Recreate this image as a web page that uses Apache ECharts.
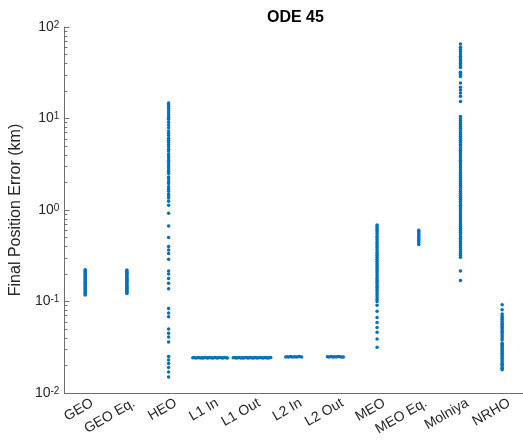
<!DOCTYPE html>
<html><head><meta charset="utf-8">
<script src="https://cdn.jsdelivr.net/npm/echarts@6/dist/echarts.min.js"></script>
<style>html,body{margin:0;padding:0;background:#fff}#c{width:523px;height:441px}</style>
</head><body><div id="c"></div>
<script>
const categories = ['GEO','GEO Eq.','HEO','L1 In','L1 Out','L2 In','L2 Out','MEO','MEO Eq.','Molniya','NRHO'];
const categoryPositions = [1,2,3,4,5,6,7,8,9,10,11];
const titleText = 'ODE 45';
const yAxisName = 'Final Position Error (km)';
const yMajorTicks = [0.01, 0.1, 1, 10, 100];
const yMinorTicks = [0.02,0.03,0.04,0.05,0.06,0.07,0.08,0.09,0.2,0.3,0.4,0.5,0.6,0.7,0.8,0.9,2,3,4,5,6,7,8,9,20,30,40,50,60,70,80,90];

const geo = [0.118,0.121,0.124,0.127,0.13,0.134,0.137,0.141,0.145,0.149,0.153,0.158,0.162,0.167,0.172,0.177,0.182,0.188,0.194,0.2,0.206,0.212,0.218,0.222];
const geoEq = [0.122,0.125,0.128,0.132,0.135,0.139,0.143,0.147,0.151,0.156,0.16,0.165,0.17,0.175,0.18,0.186,0.191,0.197,0.203,0.209,0.215,0.221];
const heo = [14.8,14.2,13.5,12.9,12.1,11.5,10.9,10.3,9.8,9.1,8.5,7.9,7.3,6.9,6.5,6.1,5.8,5.5,5.2,4.9,4.6,4.4,4.1,3.9,3.7,3.5,3.3,3.1,2.95,2.8,2.65,2.5,2.3,2.2,2.05,1.95,1.8,1.7,1.6,1.5,1.42,1.35,1.25,1.13,0.92,0.67,0.5,0.4,0.365,0.335,0.29,0.216,0.2,0.178,0.158,0.138,0.084,0.075,0.068,0.05,0.045,0.041,0.036,0.025,0.023,0.021,0.019,0.017,0.015];
const l1In = [0.0243,0.0244,0.0242,0.0243,0.0245,0.0242,0.0243,0.0241,0.0244,0.0243,0.0242,0.0244,0.0243,0.0241,0.0243,0.0244,0.0242,0.0243,0.0245,0.0243,0.0242,0.0244,0.0243,0.0242];
const l1InOffset = [-0.42,-0.39,-0.35,-0.31,-0.28,-0.24,-0.2,-0.17,-0.13,-0.09,-0.06,-0.02,0.01,0.05,0.08,0.12,0.16,0.19,0.23,0.27,0.3,0.34,0.38,0.41];
const l1Out = [0.0243,0.0244,0.0242,0.0243,0.0245,0.0242,0.0243,0.0241,0.0244,0.0243,0.0242,0.0244,0.0243,0.0241,0.0243,0.0244,0.0242,0.0243,0.0245,0.0243,0.0242,0.0244,0.0243,0.0242,0.0243,0.0244];
const l1OutOffset = [-0.45,-0.41,-0.38,-0.34,-0.31,-0.27,-0.23,-0.2,-0.16,-0.12,-0.09,-0.05,-0.02,0.02,0.05,0.09,0.12,0.16,0.2,0.23,0.27,0.31,0.34,0.38,0.41,0.45];
const l2In = [0.0248,0.0249,0.0247,0.0250,0.0248,0.0249,0.0247,0.0249,0.0250,0.0248];
const l2InOffset = [-0.19,-0.15,-0.11,-0.07,-0.03,0.02,0.06,0.1,0.14,0.19];
const l2Out = [0.0249,0.0248,0.0250,0.0247,0.0249,0.0248,0.0250,0.0249,0.0247,0.0248];
const l2OutOffset = [-0.19,-0.15,-0.1,-0.06,-0.02,0.02,0.06,0.11,0.15,0.19];
const meo = [0.685,0.66,0.63,0.6,0.575,0.55,0.52,0.5,0.475,0.45,0.43,0.41,0.39,0.37,0.35,0.335,0.32,0.305,0.29,0.275,0.26,0.25,0.24,0.23,0.22,0.21,0.2,0.19,0.18,0.172,0.165,0.158,0.15,0.143,0.136,0.13,0.124,0.118,0.112,0.106,0.1,0.091,0.078,0.067,0.059,0.052,0.046,0.039,0.0316];
const meoEq = [0.6,0.58,0.56,0.54,0.52,0.5,0.48,0.46,0.44,0.42];
const molniya = [65,60,57,54,51,48,46,44,42,40,38,36,32,30.5,28.7,24.5,22,20.5,19,17.5,15.3,10.5,10,9.5,9,8.6,8.2,7.8,7.4,7.0,6.7,6.4,6.1,5.8,5.5,5.2,5.0,4.7,4.5,4.3,4.1,3.9,3.7,3.5,3.35,3.2,3.05,2.9,2.75,2.6,2.5,2.38,2.26,2.15,2.05,1.95,1.86,1.77,1.68,1.6,1.52,1.45,1.38,1.31,1.25,1.19,1.13,1.08,1.03,0.98,0.93,0.88,0.84,0.8,0.76,0.72,0.69,0.66,0.63,0.6,0.57,0.54,0.51,0.49,0.47,0.45,0.43,0.41,0.39,0.37,0.35,0.335,0.32,0.305,0.215,0.17];
const nrho = [0.092,0.081,0.073,0.07,0.067,0.064,0.061,0.058,0.056,0.054,0.052,0.05,0.048,0.046,0.044,0.042,0.04,0.038,0.035,0.034,0.033,0.032,0.031,0.03,0.029,0.028,0.027,0.026,0.025,0.024,0.023,0.022,0.021,0.0205,0.02,0.019,0.0185,0.018];

const columns = [geo, geoEq, heo, l1In, l1Out, l2In, l2Out, meo, meoEq, molniya, nrho];
const offsets = {3: l1InOffset, 4: l1OutOffset, 5: l2InOffset, 6: l2OutOffset};
const points = [];
columns.forEach((vals, i) => {
  vals.forEach((v, j) => {
    const off = offsets[i] ? offsets[i][j] : 0;
    points.push([categoryPositions[i] + off, v]);
  });
});

const textColor = '#262626';
const lineColor = '#6e6e6e';
const font = 'Liberation Sans, Arial, sans-serif';
const labelShift = 0.17; // small rightward nudge of rotated tick labels (style only)

const chart = echarts.init(document.getElementById('c'), null, {renderer: 'canvas'});
chart.setOption({
  animation: false,
  backgroundColor: '#fff',
  title: {
    text: titleText, left: 262, top: 5,
    textStyle: {fontFamily: font, fontSize: 16, fontWeight: 'bold', color: '#000'}
  },
  grid: {left: 62, top: 27, bottom: 48, right: -4, containLabel: false},
  xAxis: [{
    type: 'category', data: categories, boundaryGap: true,
    axisLine: {lineStyle: {color: lineColor, width: 1}},
    axisTick: {alignWithLabel: true, inside: true, length: 5, lineStyle: {color: lineColor}},
    axisLabel: {show: false},
    splitLine: {show: false}
  }, {
    type: 'value', min: 0.5, max: 11.5, show: false
  }, {
    type: 'value', min: 0.5 - labelShift, max: 11.5 - labelShift, position: 'bottom',
    axisLine: {show: false}, axisTick: {show: false}, splitLine: {show: false},
    axisLabel: {
      customValues: categoryPositions, rotate: 30, margin: 9, interval: 0,
      color: textColor, fontFamily: font, fontSize: 14,
      formatter: function (v) { return categories[Math.round(v) - 1] || ''; }
    }
  }],
  yAxis: [{
    type: 'log', logBase: 10, min: 0.01, max: 100,
    name: yAxisName, nameLocation: 'middle', nameGap: 33,
    nameTextStyle: {fontFamily: font, fontSize: 16, color: textColor},
    axisLine: {show: true, lineStyle: {color: lineColor, width: 1}},
    axisTick: {show: true, inside: true, length: 5, lineStyle: {color: lineColor}, customValues: yMajorTicks},
    axisLabel: {
      customValues: yMajorTicks,
      margin: 5, color: textColor, fontFamily: font,
      formatter: function (v) {
        const e = Math.round(Math.log10(v));
        return '{a|10}{b|' + e + '}';
      },
      rich: {
        a: {fontSize: 14, fontFamily: font, color: textColor, verticalAlign: 'bottom', lineHeight: 14},
        b: {fontSize: 10, fontFamily: font, color: textColor, verticalAlign: 'top', lineHeight: 10, padding: [0, 0, 8, 0]}
      }
    },
    splitLine: {show: false}
  }, {
    type: 'log', logBase: 10, min: 0.01, max: 100, position: 'left',
    axisLine: {show: false},
    axisTick: {show: true, inside: true, length: 3, lineStyle: {color: lineColor}, customValues: yMinorTicks},
    axisLabel: {show: false},
    splitLine: {show: false}
  }],
  series: [{
    type: 'scatter', xAxisIndex: 1, yAxisIndex: 0,
    data: points, symbol: 'circle', symbolSize: 3.5,
    itemStyle: {color: '#0072BD', opacity: 1},
    silent: true
  }]
});
</script>
</body></html>
